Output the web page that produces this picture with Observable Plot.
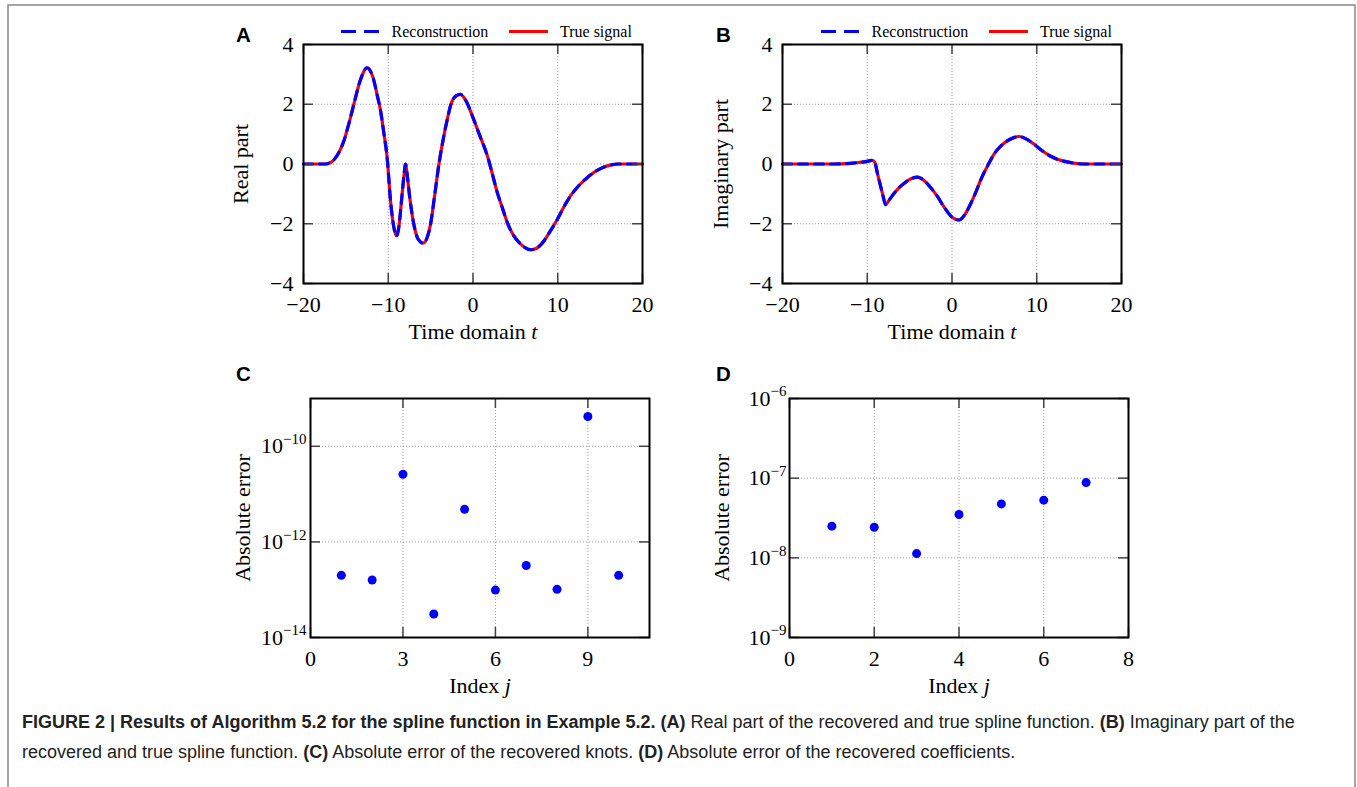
<!DOCTYPE html>
<html><head><meta charset="utf-8">
<script src="https://cdn.jsdelivr.net/npm/d3@7"></script>
<script src="https://cdn.jsdelivr.net/npm/@observablehq/plot@0.6"></script>
<style>
body{margin:0;background:#fff;}
#page{position:relative;width:1357px;height:787px;overflow:hidden;background:#fff;}
.panel{position:absolute;}
#overlay{position:absolute;left:0;top:0;pointer-events:none;}
#caption{position:absolute;left:22px;top:707px;font-family:"Liberation Sans",Arial,sans-serif;font-size:18px;line-height:30px;color:#222;white-space:nowrap;}
</style></head><body><div id="page"></div>
<script>
// ---- Panel A: real part (t, value)
const tA  = [-20,-17.5,-16.8,-16,-15.24,-14.6,-14.06,-13.3,-12.5,-11.8,-11.3,-10.9,-10.5,-10.13,-9.73,-9.35,-9.03,-8.7,-8.44,-8.15,-7.96,-7.75,-7.46,-6.98,-6.5,-5.88,-5.4,-5.0,-4.5,-4.02,-3.5,-3.03,-2.6,-2.0,-1.5,-0.8,0,0.8,1.69,2.3,2.87,3.5,4.06,4.8,5.63,6.81,7.5,8.19,9.0,9.96,10.7,11.5,12.5,13.5,14.5,15.47,16.3,17.05,20];
const reA = [0,0,0.05,0.3,0.77,1.4,2.0,2.8,3.22,2.9,2.3,1.77,1.0,0.21,-1.24,-2.1,-2.41,-2.0,-1.24,-0.4,0,-0.4,-1.13,-2.02,-2.5,-2.65,-2.45,-2.0,-1.0,0,0.85,1.5,2.0,2.28,2.33,2.1,1.55,0.95,0.28,-0.35,-0.96,-1.5,-1.97,-2.4,-2.68,-2.87,-2.82,-2.64,-2.3,-1.85,-1.45,-1.07,-0.72,-0.45,-0.24,-0.1,-0.03,0,0];
// ---- Panel B: imaginary part
const tB  = [-20,-14,-12,-11,-10,-9.4,-9.1,-8.8,-8.2,-7.83,-7.4,-6.85,-6.2,-5.67,-4.9,-4.09,-3.3,-2.6,-1.8,-0.94,0,0.83,1.5,2.2,2.8,3.39,4.37,5.0,5.75,6.8,7.9,8.8,9.7,10.6,11.65,12.6,13.6,14.6,15.6,20];
const imB = [0,0,0.02,0.05,0.09,0.125,0.05,-0.31,-0.99,-1.36,-1.2,-0.99,-0.78,-0.65,-0.5,-0.44,-0.55,-0.76,-1.05,-1.44,-1.78,-1.875,-1.7,-1.33,-0.95,-0.53,0.03,0.35,0.6,0.82,0.92,0.83,0.66,0.45,0.26,0.14,0.07,0.02,0,0];
// ---- Panel C: absolute error of knots
const jC   = [1,2,3,4,5,6,7,8,9,10];
const errC = [2.0e-13,1.6e-13,2.6e-11,3.1e-14,4.8e-12,9.8e-14,3.2e-13,1.02e-13,4.2e-10,2.0e-13];
// ---- Panel D: absolute error of coefficients
const jD   = [1,2,3,4,5,6,7];
const errD = [2.5e-8,2.42e-8,1.13e-8,3.5e-8,4.75e-8,5.3e-8,8.8e-8];
// ---- ticks
const ticksT  = [-20,-10,0,10,20];
const ticksV  = [-4,-2,0,2,4];
const ticksJC = [0,3,6,9];
const ticksEC = [1e-14,1e-12,1e-10];
const ticksJD = [0,2,4,6,8];
const ticksED = [1e-9,1e-8,1e-7,1e-6];
// ---- texts
const legendLabels = ["Reconstruction","True signal"];

const dataA = tA.map((t,i)=>({t, v: reA[i]}));
const dataB = tB.map((t,i)=>({t, v: imB[i]}));
const dataC = jC.map((j,i)=>({j, e: errC[i]}));
const dataD = jD.map((j,i)=>({j, e: errD[i]}));

const fmtNum = d => d < 0 ? "\u2212" + Math.abs(d) : String(d);
const fmtPow = d => { const p = Math.round(Math.log10(d)); return "10^" + (p < 0 ? "\u2212" + (-p) : p); };

const page = document.getElementById("page");

function panel(o) {
  const plotW = o.width - o.ml - o.mr, plotH = o.height - o.mt - o.mb;
  const tickStyle = {stroke: "#444", strokeWidth: 1.5};
  const gridStyle = {stroke: "#999", strokeOpacity: 1, strokeWidth: 1, strokeDasharray: "1,2"};
  const chart = Plot.plot({
    width: o.width, height: o.height,
    marginLeft: o.ml, marginRight: o.mr, marginTop: o.mt, marginBottom: o.mb,
    x: {domain: o.xDomain, ticks: o.xTicks},
    y: {type: o.yType || "linear", domain: o.yDomain, ticks: o.yTicks},
    style: {fontFamily: "'Liberation Serif', 'DejaVu Serif', serif", fontSize: "21px", background: "white", color: "black", overflow: "visible"},
    marks: [
      Plot.ruleX(o.xTicks, {x: d => d, ...gridStyle}),
      Plot.ruleY(o.yTicks, {y: d => d, ...gridStyle}),
      ...o.marks,
      Plot.tickY(o.yTicks, {y: d => d, insetRight: plotW - 10, ...tickStyle}),
      Plot.tickY(o.yTicks, {y: d => d, insetLeft: plotW - 10, ...tickStyle}),
      Plot.tickX(o.xTicks, {x: d => d, insetTop: plotH - 10, ...tickStyle}),
      Plot.tickX(o.xTicks, {x: d => d, insetBottom: plotH - 10, ...tickStyle}),
      Plot.frame({stroke: "black", strokeWidth: 2}),
      Plot.axisX(o.xTicks, {tickSize: 0, tickPadding: 13, fontSize: 22, tickFormat: fmtNum, label: null}),
      Plot.axisY(o.yTicks, {tickSize: 0, tickPadding: o.yPad, fontSize: 22, tickFormat: o.yFmt, label: null}),
      Plot.text([o.xLabel], {text: d => d, frameAnchor: "bottom", textAnchor: "middle", lineAnchor: "middle", dy: 48, fontSize: 22}),
      Plot.text([o.yLabel], {text: d => d, frameAnchor: "left", textAnchor: "middle", lineAnchor: "middle", dx: o.yLabelDx, rotate: -90, fontSize: 22})
    ]
  });
  chart.classList.add("panel");
  chart.style.left = o.left + "px";
  chart.style.top = o.top + "px";
  chart.querySelectorAll("text").forEach(el => {
    const s = el.textContent;
    if (s === "Time domain t") el.innerHTML = 'Time domain <tspan font-style="italic">t</tspan>';
    else if (s === "Index j") el.innerHTML = 'Index <tspan font-style="italic">j</tspan>';
    else {
      const m = s.match(/^10\^(.+)$/);
      if (m) el.innerHTML = '10<tspan dy="-0.62em" font-size="15px">' + m[1] + '</tspan>';
    }
  });
  page.appendChild(chart);
}

function curveMarks(data) {
  return [
    Plot.line(data, {x: "t", y: "v", stroke: "#ff0000", strokeWidth: 3.2, curve: "monotone-x"}),
    Plot.line(data, {x: "t", y: "v", stroke: "#0000ff", strokeWidth: 3.2, strokeDasharray: "9,7", curve: "monotone-x"})
  ];
}

panel({left: 200, top: 0, width: 450, height: 345, ml: 103, mr: 8, mt: 44, mb: 62,
  xDomain: [-20, 20], yDomain: [-4, 4], xTicks: ticksT, yTicks: ticksV, yFmt: fmtNum, yPad: 10,
  xLabel: "Time domain t", yLabel: "Real part", yLabelDx: -63, marks: curveMarks(dataA)});
panel({left: 680, top: 0, width: 450, height: 345, ml: 102, mr: 9, mt: 44, mb: 62,
  xDomain: [-20, 20], yDomain: [-4, 4], xTicks: ticksT, yTicks: ticksV, yFmt: fmtNum, yPad: 10,
  xLabel: "Time domain t", yLabel: "Imaginary part", yLabelDx: -62, marks: curveMarks(dataB)});
panel({left: 200, top: 345, width: 460, height: 355, ml: 110, mr: 11, mt: 53, mb: 63,
  xDomain: [0, 11], yDomain: [1e-14, 1e-9], yType: "log", xTicks: ticksJC, yTicks: ticksEC, yFmt: fmtPow, yPad: 4,
  xLabel: "Index j", yLabel: "Absolute error", yLabelDx: -67.5,
  marks: [Plot.dot(dataC, {x: "j", y: "e", r: 4.5, fill: "#0000ff", stroke: "none"})]});
panel({left: 680, top: 345, width: 460, height: 355, ml: 109, mr: 12, mt: 53, mb: 63,
  xDomain: [0, 8], yDomain: [1e-9, 1e-6], yType: "log", xTicks: ticksJD, yTicks: ticksED, yFmt: fmtPow, yPad: 3,
  xLabel: "Index j", yLabel: "Absolute error", yLabelDx: -67.3,
  marks: [Plot.dot(dataD, {x: "j", y: "e", r: 4.5, fill: "#0000ff", stroke: "none"})]});

// ---- overlay: border, panel letters, legends
const ov = d3.select(page).append("svg").attr("id", "overlay").attr("width", 1357).attr("height", 787);
ov.append("rect").attr("x", 8).attr("y", 5).attr("width", 1347).attr("height", 800)
  .attr("fill", "none").attr("stroke", "#888").attr("stroke-width", 1.5);
[["A", 236, 41.5], ["B", 716, 41.5], ["C", 236, 381], ["D", 716, 381]].forEach(([s, x, y]) => {
  ov.append("text").attr("x", x).attr("y", y).text(s)
    .attr("font-family", "'Liberation Sans', Arial, sans-serif").attr("font-weight", "bold").attr("font-size", 20.5);
});
[0, 480].forEach(dx => {
  ov.append("line").attr("x1", 341 + dx).attr("x2", 380 + dx).attr("y1", 31.5).attr("y2", 31.5)
    .attr("stroke", "#0000ff").attr("stroke-width", 3).attr("stroke-dasharray", "15,8");
  ov.append("text").attr("x", 391.5 + dx).attr("y", 36.5).text(legendLabels[0])
    .attr("font-family", "'Liberation Serif', serif").attr("font-size", 16);
  ov.append("line").attr("x1", 509 + dx).attr("x2", 548 + dx).attr("y1", 31.5).attr("y2", 31.5)
    .attr("stroke", "#ff0000").attr("stroke-width", 3);
  ov.append("text").attr("x", 560 + dx).attr("y", 36.5).text(legendLabels[1])
    .attr("font-family", "'Liberation Serif', serif").attr("font-size", 16);
});

// ---- caption
const cap = document.createElement("div");
cap.id = "caption";
cap.innerHTML = '<b>FIGURE 2 | Results of Algorithm 5.2 for the spline function in Example 5.2.</b> <b>(A)</b> Real part of the recovered and true spline function. <b>(B)</b> Imaginary part of the<br>recovered and true spline function. <b>(C)</b> Absolute error of the recovered knots. <b>(D)</b> Absolute error of the recovered coefficients.';
page.appendChild(cap);
</script>
</body></html>
